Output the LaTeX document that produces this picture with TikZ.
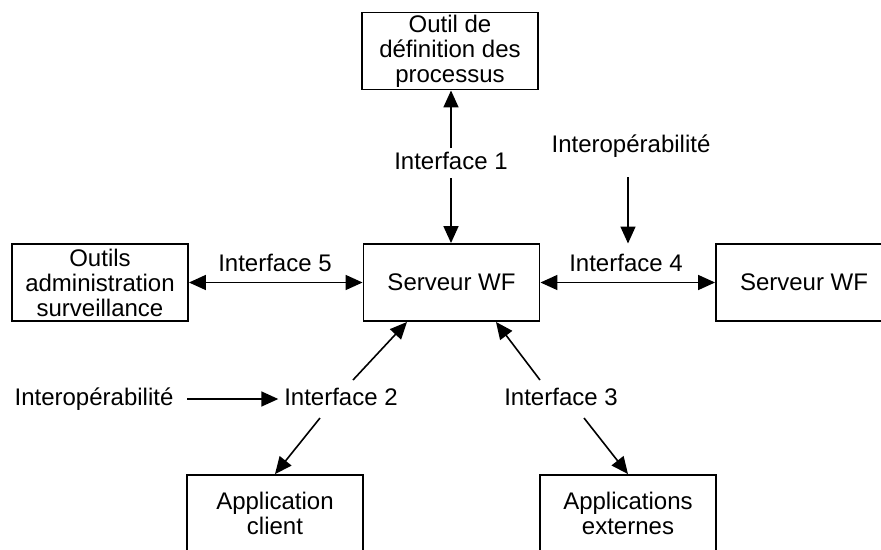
\documentclass[tikz,border=0pt]{standalone}
\usepackage{fontspec}
\setmainfont{Liberation Sans}
\usetikzlibrary{arrows.meta,calc}
\begin{document}
\begin{tikzpicture}[x=1pt,y=-1pt,
  box/.style={draw, line width=1.9pt, minimum width=176pt, minimum height=77pt, inner sep=0pt, align=center, font=\fontsize{24}{25}\selectfont},
  lab/.style={inner xsep=2pt, inner ysep=0pt, text height=17pt, text depth=5pt, outer sep=4pt, font=\fontsize{24}{25}\selectfont},
  arr/.style={line width=1.6pt, -{Triangle[length=17pt,width=15pt]}},
  darr/.style={line width=1.6pt, {Triangle[length=17pt,width=15pt]}-{Triangle[length=17pt,width=15pt]}}]
\useasboundingbox (0,0) rectangle (881,549);
\clip (0,0) rectangle (881,549);
\fill[white] (0,0) rectangle (881,549);

\node[box] (outil) at (450,51) {Outil de\\définition des\\processus};
\node[box] (adm) at (100,282.5) {Outils\\administration\\surveillance};
\node[box] (srv) at (451.5,282.5) {Serveur WF};
\node[box] (srv2) at (804,282.5) {Serveur WF};
\node[box] (app1) at (275,513.5) {Application\\client};
\node[box] (app2) at (628,513.5) {Applications\\externes};

\node[lab] (i1) at (451,163) {Interface 1};
\node[lab] (iop1) at (631,146) {Interopérabilité};
\node[lab] (i5) at (275,265) {Interface 5};
\node[lab] (i4) at (626,265) {Interface 4};
\node[lab] (iop2) at (94,399) {Interopérabilité};
\node[lab] (i2) at (341,399) {Interface 2};
\node[lab] (i3) at (561,399) {Interface 3};

\coordinate (c4) at (628,243.5);

\draw[arr] (i1.north) -- (i1.north |- outil.south);
\draw[arr] (i1.south) -- (i1.south |- srv.north);
\draw[darr] (adm.east) -- (srv.west);
\draw[darr] (srv.east) -- (srv2.west);
\draw[arr] ($(iop1.south -| c4)+(0,16)$) -- (c4);
\draw[arr, shorten <=8pt] (iop2.east) -- (i2.west);
\draw[arr] ($(i2.north)+(12,-4)$) -- ($(srv.south west)!0.25!(srv.south east)$);
\draw[arr] ($(i3.north)+(-21,-4)$) -- ($(srv.south west)!0.75!(srv.south east)$);
\draw[arr] ($(i2.south)+(-21,4)$) -- (app1.north);
\draw[arr] ($(i3.south)+(23,4)$) -- (app2.north);
\end{tikzpicture}
\end{document}
